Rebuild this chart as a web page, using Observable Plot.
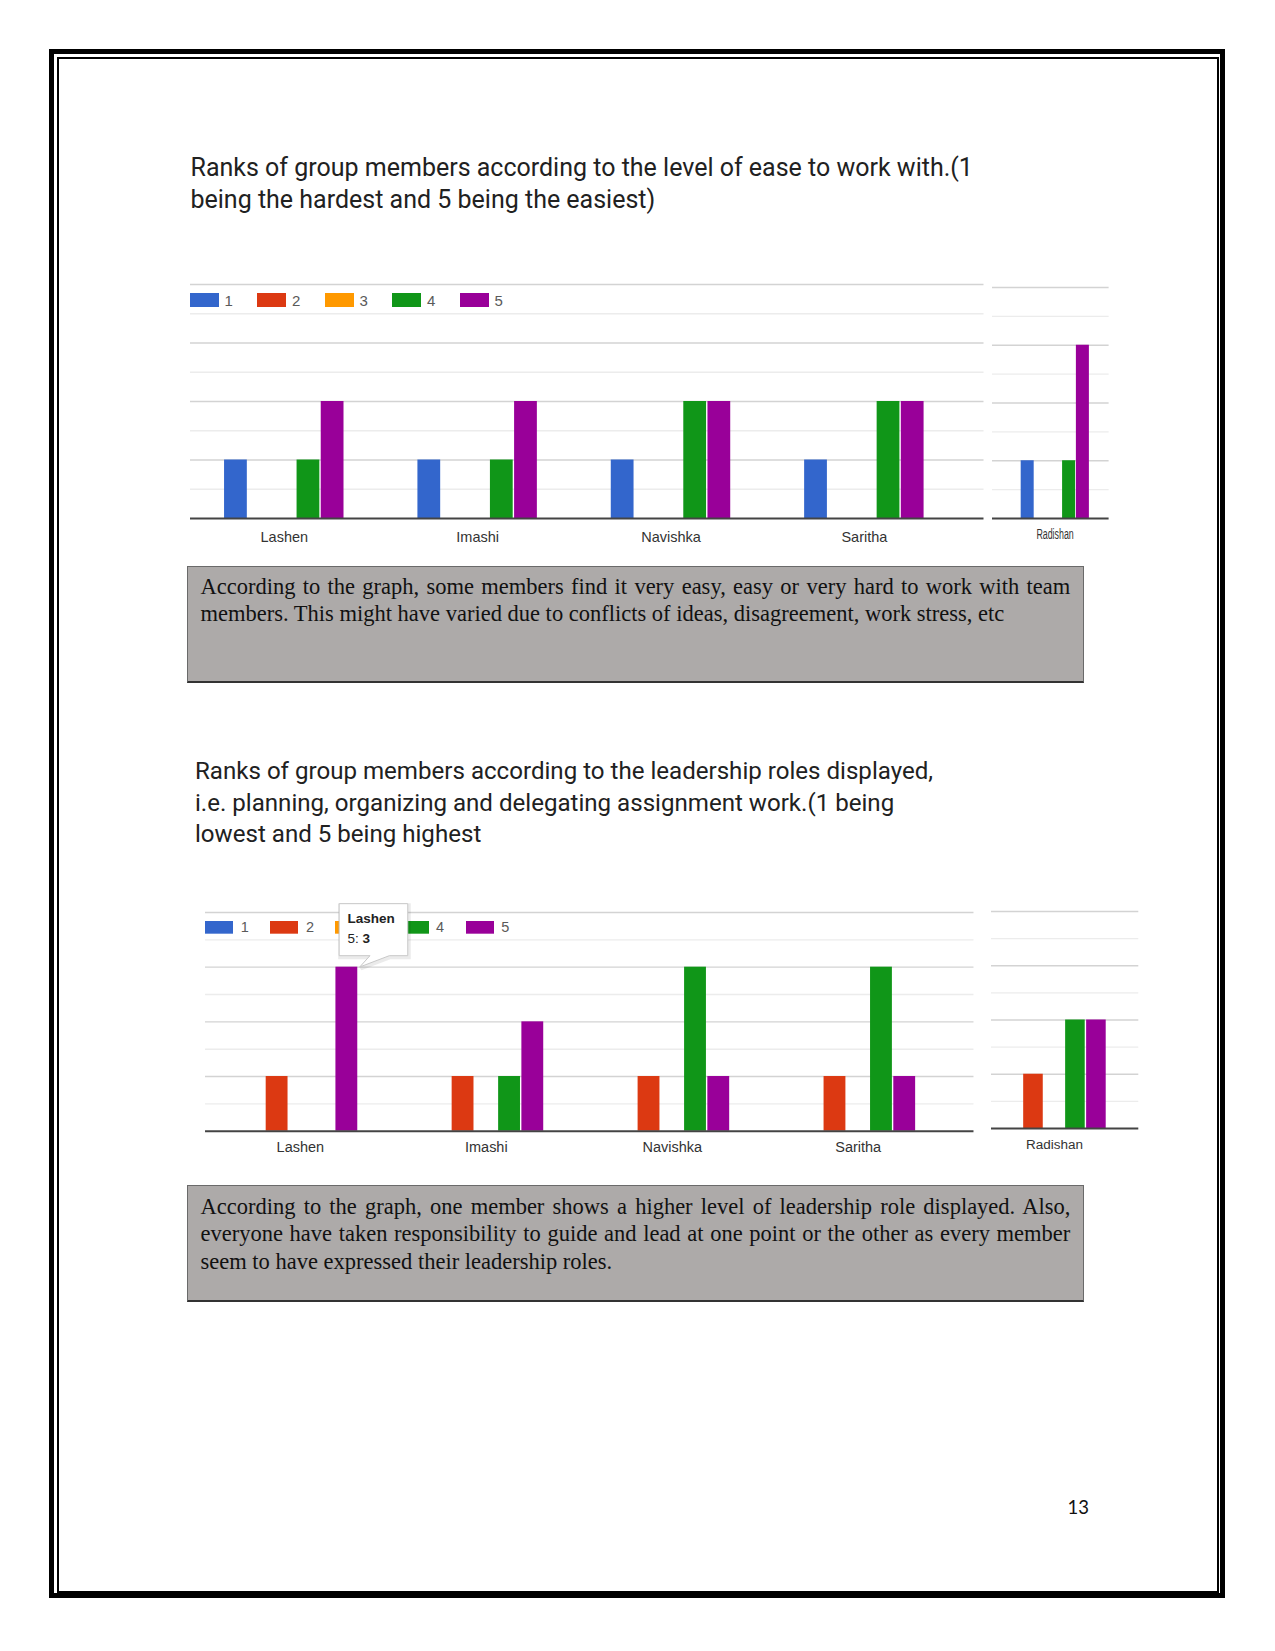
<!DOCTYPE html>
<html><head><meta charset="utf-8">
<script src="https://cdn.jsdelivr.net/npm/d3@7"></script>
<script src="https://cdn.jsdelivr.net/npm/@observablehq/plot@0.6"></script>
<style>
body { margin:0; background:#fff; }
#page { position:relative; width:1275px; height:1651px; overflow:hidden; background:#fff; }
.abs { position:absolute; }
.title { font-family: Roboto, "Liberation Sans", sans-serif; line-height:31.6px; color:#212121; white-space:nowrap; }
.box { background:#adaaa9; border:1px solid #6a6a6a; border-bottom:2px solid #333; box-sizing:border-box; }
.btxt { font-family:"Liberation Serif", "Times New Roman", serif; font-size:22.5px; line-height:27.3px; color:#111; white-space:nowrap; }
.btxt .j { text-align:justify; text-align-last:justify; }
.lgA-swatches, .lgB-swatches { margin:0 !important; min-height:0 !important; height:20px; flex-wrap:nowrap !important; font-family:"Liberation Sans", Arial, sans-serif !important; color:#5a5a5a; }
.lgA-swatches { font-size:15px !important; }
.lgB-swatches { font-size:14.5px !important; }
.lgA-swatch { width:67.5px; flex:none; margin-right:0 !important; }
.lgB-swatch { width:65.1px; flex:none; margin-right:0 !important; }
.lgA-swatch > svg { margin-right:6px !important; }
.lgB-swatch > svg { margin-right:7.5px !important; }
</style></head><body><div id="page"></div>
<script>
// ---------- data ----------
const members = ["Lashen", "Imashi", "Navishka", "Saritha", "Radishan"];
const ranks = ["1", "2", "3", "4", "5"];
const rankColors = ["#3366cc", "#dc3912", "#ff9900", "#109618", "#990099"];
// Chart 1: ease to work with — number of votes per member for each rank
const easeRank1 = [1, 1, 1, 1, 1];
const easeRank2 = [0, 0, 0, 0, 0];
const easeRank3 = [0, 0, 0, 0, 0];
const easeRank4 = [1, 1, 2, 2, 1];
const easeRank5 = [2, 2, 2, 2, 3];
// Chart 2: leadership roles — number of votes per member for each rank
const leadRank1 = [0, 0, 0, 0, 0];
const leadRank2 = [1, 1, 1, 1, 1];
const leadRank3 = [0, 0, 0, 0, 0];
const leadRank4 = [0, 1, 3, 3, 2];
const leadRank5 = [3, 2, 1, 1, 2];
const yMajor = [1, 2, 3, 4];
const yMinor = [0.5, 1.5, 2.5, 3.5];
const tooltipMember = 0, tooltipRank = 4; // "Lashen", rank "5"

const title1 = ["Ranks of group members according to the level of ease to work with.(1", "being the hardest and 5 being the easiest)"];
const title2 = ["Ranks of group members according to the leadership roles displayed,", "i.e. planning, organizing and delegating assignment work.(1 being", "lowest and 5 being highest"];
const note1 = ["According to the graph, some members find it very easy, easy or very hard to work with team", "members. This might have varied due to conflicts of ideas, disagreement, work stress, etc"];
const note2 = ["According to the graph, one member shows a higher level of leadership role displayed. Also,", "everyone have taken responsibility to guide and lead at one point or the other as every member", "seem to have expressed their leadership roles."];
const pageNumber = "13";

// ---------- helpers ----------
const SLOTS = 8, LEAD = 1.5;
const page = document.getElementById("page");
function div(cls, css, html) {
  const d = document.createElement("div");
  d.className = cls; Object.assign(d.style, css);
  if (html != null) d.innerHTML = html;
  page.appendChild(d); return d;
}
function buildRows(series) {
  const rows = [];
  members.forEach((m, mi) => ranks.forEach((r, ri) => {
    const v = series[ri][mi];
    if (v > 0) rows.push({member: m, mi, rank: r, ri, count: v, x1: mi * SLOTS + LEAD + ri, x2: mi * SLOTS + LEAD + ri + 1});
  }));
  return rows;
}
function panel({rows, memberIdx, xDomain, left, top, plotW, plotH, labelPad, labelSize, scaleX}) {
  const mt = 4, mb = 34;
  const centers = memberIdx.map(i => i * SLOTS + SLOTS / 2);
  const plot = Plot.plot({
    width: plotW, height: mt + plotH + mb,
    marginLeft: 0, marginRight: 0, marginTop: mt, marginBottom: mb,
    style: {fontFamily: "'Liberation Sans', Arial, sans-serif", fontSize: labelSize + "px", color: "#333", background: "transparent", overflow: "visible"},
    x: {type: "linear", domain: xDomain, ticks: centers, tickFormat: v => members[Math.round((v - SLOTS / 2) / SLOTS)], tickSize: 0, tickPadding: labelPad, label: null},
    y: {domain: [0, 4], axis: null},
    color: {type: "ordinal", domain: ranks, range: rankColors},
    marks: [
      Plot.ruleY(yMinor, {stroke: "#ececec", strokeWidth: 1.4}),
      Plot.ruleY(yMajor, {stroke: "#d3d3d3", strokeWidth: 1.4}),
      Plot.rect(rows.filter(d => memberIdx.includes(d.mi)), {x1: "x1", x2: "x2", y1: () => 0, y2: "count", fill: "rank", insetLeft: 0.7, insetRight: 0.7}),
      Plot.ruleY([0], {stroke: "#444", strokeWidth: 2})
    ]
  });
  const box = div("abs", {left: left + "px", top: (top - mt) + "px", width: plotW + "px"});
  if (scaleX) { box.style.transform = `scaleX(${scaleX})`; box.style.transformOrigin = "0 0"; }
  box.appendChild(plot);
  return {plot, left, top: top - mt};
}
function legend(cls, swW, swH, left, cy, clipLeft) {
  const lg = Plot.legend({color: {type: "ordinal", domain: ranks, range: rankColors}, legend: "swatches", swatchWidth: swW, swatchHeight: swH, className: cls});
  const wrap = div("abs", {left: clipLeft + "px", top: (cy - 10) + "px", width: "420px", height: "20px", overflow: "hidden"});
  lg.style.marginLeft = (left - clipLeft) + "px";
  wrap.appendChild(lg);
}

// ---------- page frame ----------
div("abs", {left: "49px", top: "49px", width: "1176px", height: "1549px", border: "5px solid #000", boxSizing: "border-box"});
div("abs", {left: "56.5px", top: "56.5px", width: "1162px", height: "1536.5px", border: "2px solid #000", boxSizing: "border-box"});

// ---------- titles ----------
div("abs title", {left: "190.5px", top: "152.3px", fontSize: "25px"}, title1.join("<br>"));
div("abs title", {left: "195px", top: "756.2px", fontSize: "24.1px"}, title2.join("<br>"));

// ---------- chart 1 ----------
const ease = buildRows([easeRank1, easeRank2, easeRank3, easeRank4, easeRank5]);
panel({rows: ease, memberIdx: [0, 1, 2, 3], xDomain: [0.12, 32.95], left: 189.5, top: 284.3, plotW: 793.5, plotH: 234, labelPad: 13.4, labelSize: 14.5});
panel({rows: ease, memberIdx: [4], xDomain: [31.45, 39.9], left: 991.7, top: 287.3, plotW: 204, plotH: 231, labelPad: 9.5, labelSize: 15.5, scaleX: 0.5716});
legend("lgA", 29, 14, 182.6, 300, 189.5);

// ---------- chart 2 ----------
const lead = buildRows([leadRank1, leadRank2, leadRank3, leadRank4, leadRank5]);
const main2 = panel({rows: lead, memberIdx: [0, 1, 2, 3], xDomain: [-0.08, 32.98], left: 205.3, top: 912.3, plotW: 768.5, plotH: 218.7, labelPad: 10.7, labelSize: 14.5});
panel({rows: lead, memberIdx: [4], xDomain: [33.0, 40.02], left: 991, top: 910.7, plotW: 147.3, plotH: 217, labelPad: 10.6, labelSize: 13.5});
legend("lgB", 28, 12.7, 206.5, 927, 205.3);

// tooltip anchored through the plot's scales
{
  const sx = main2.plot.scale("x"), sy = main2.plot.scale("y");
  const fx = sx.apply ? v => sx.apply(v) : d3.scaleLinear(sx.domain, sx.range);
  const fy = sy.apply ? v => sy.apply(v) : d3.scaleLinear(sy.domain, sy.range);
  const row = lead.find(d => d.mi === tooltipMember && d.ri === tooltipRank);
  const tx = main2.left + fx(row.x2) + 1.5, ty = main2.top + fy(row.count);
  const svg = d3.select(page).append("svg").attr("class", "abs").attr("width", 1275).attr("height", 1651)
    .style("left", 0).style("top", 0).style("pointer-events", "none");
  const bx = tx - 20.6, by = ty - 63.3, bw = 68.6, bh = 52;
  const path = `M${bx},${by}H${bx + bw}V${by + bh}H${tx + 29.6}L${tx},${ty}L${tx + 10.2},${by + bh}H${bx}Z`;
  svg.append("path").attr("d", path).attr("fill", "none").attr("stroke", "rgba(0,0,0,0.08)").attr("stroke-width", 4).attr("transform", "translate(1,1.5)");
  svg.append("path").attr("d", path).attr("fill", "#fff").attr("stroke", "#c8c8c8").attr("stroke-width", 1);
  const t = svg.append("g").attr("font-family", "'Liberation Sans', Arial, sans-serif").attr("font-size", 13.5).attr("fill", "#222");
  t.append("text").attr("x", bx + 8.3).attr("y", by + 19.3).attr("font-weight", "bold").text(row.member);
  const l2 = t.append("text").attr("x", bx + 8.3).attr("y", by + 39);
  l2.append("tspan").text(row.rank + ": ");
  l2.append("tspan").attr("font-weight", "bold").text(row.count);
}

// ---------- note boxes ----------
div("abs box", {left: "187px", top: "566px", width: "897px", height: "117px"});
div("abs btxt", {left: "200.5px", top: "573px", width: "869.8px"}, `<div class="j">${note1[0]}</div><div>${note1[1]}</div>`);
div("abs box", {left: "187px", top: "1185px", width: "897px", height: "117px"});
div("abs btxt", {left: "200.5px", top: "1193px", width: "869.8px"}, `<div class="j">${note2[0]}</div><div class="j">${note2[1]}</div><div>${note2[2]}</div>`);

// ---------- page number ----------
div("abs", {left: "1067.5px", top: "1496px", fontFamily: "Lato, 'Liberation Sans', sans-serif", fontSize: "18.5px", color: "#111"}, pageNumber);
</script></body></html>
